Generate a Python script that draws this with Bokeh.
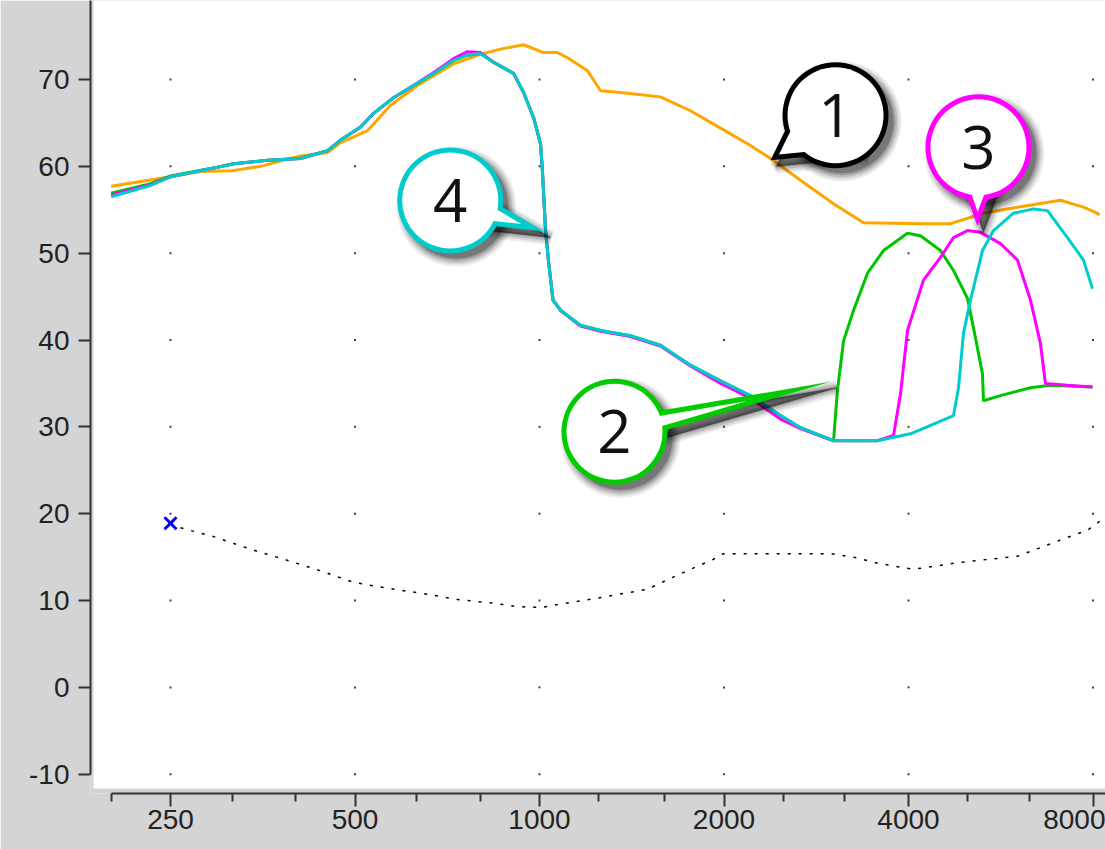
import math
from bokeh.plotting import figure
from bokeh.models import Range1d, FixedTicker, BoxAnnotation, CustomJSTickFormatter, Span
from bokeh.core.properties import value
from bokeh.embed import file_html
from bokeh.resources import INLINE

# ---------------- data ----------------
x_major = [250, 500, 1000, 2000, 4000, 8000]
x_minor = [200, 315, 400, 630, 800, 1250, 1600, 2500, 3150, 5000, 6300]
y_major = [-10, 0, 10, 20, 30, 40, 50, 60, 70]

c1_freq = [200, 250, 280, 315, 351, 407, 451, 473, 524, 571, 632, 724, 810, 864, 942,
           1015, 1070, 1111, 1198, 1258, 1356, 1575, 1763, 1974, 2209, 2382, 2666, 3018,
           3378, 4232, 4684, 5301, 6024, 7080, 7720, 8075, 8200]
c1_level = [57.7, 58.8, 59.4, 59.5, 60.0, 61.2, 61.6, 62.7, 64.1, 67.0, 69.3, 71.8, 73.0, 73.5, 74.0,
            73.1, 73.1, 72.5, 71.0, 68.7, 68.5, 68.0, 66.4, 64.4, 62.4, 60.9, 58.4, 55.7,
            53.5, 53.4, 53.4, 54.6, 55.3, 56.1, 55.3, 54.7, 54.4]

c4_freq = [200, 232, 250, 298, 317, 360, 407, 451, 473, 510, 536, 578, 623, 672, 724, 763, 801,
           841, 907, 942, 978, 1004, 1011, 1023, 1034, 1052, 1083, 1166, 1258, 1407, 1575,
           1763, 1974, 2209, 2473, 2666, 3018, 3560, 4030, 4737, 4827, 4918, 5049, 5282,
           5505, 5934, 6397, 6742, 7268, 7720, 7985]
c4_level = [56.5, 57.8, 58.8, 59.9, 60.3, 60.7, 60.9, 61.8, 63.0, 64.5, 66.1, 67.9, 69.3, 70.7, 72.2, 72.8, 73.0,
            72.0, 70.7, 68.5, 65.6, 62.6, 59.5, 52.6, 49.2, 44.6, 43.4, 41.7, 41.1, 40.5, 39.4,
            37.1, 35.3, 33.6, 31.3, 29.9, 28.4, 28.4, 29.2, 31.3, 34.5, 40.8, 44.6, 50.3,
            52.6, 54.6, 55.1, 54.9, 51.8, 49.2, 45.9]

c3_freq = [200, 232, 250, 298, 317, 360, 407, 451, 473, 510, 536, 578, 623, 672, 724, 763, 801,
           841, 907, 942, 978, 1004, 1011, 1023, 1034, 1052, 1083, 1166, 1258, 1407, 1575,
           1763, 1974, 2209, 2473, 2666, 3018, 3560, 3781, 3882, 3985, 4232, 4510, 4737,
           4993, 5242, 5652, 6024, 6325, 6567, 6691, 7268, 7985]
c3_level = [56.7, 57.9, 58.8, 59.9, 60.3, 60.7, 60.9, 61.8, 63.0, 64.5, 66.1, 67.9, 69.3, 70.8, 72.4, 73.2, 73.1,
            72.0, 70.7, 68.5, 65.6, 62.6, 59.5, 52.6, 49.2, 44.6, 43.4, 41.6, 41.0, 40.4, 39.3,
            37.0, 35.0, 33.3, 30.9, 29.8, 28.4, 28.4, 29.0, 33.8, 41.1, 46.9, 49.5, 51.8,
            52.6, 52.4, 51.1, 49.2, 44.6, 39.6, 35.0, 34.8, 34.6]

c2_freq = [200, 232, 250, 298, 317, 360, 407, 451, 473, 510, 536, 578, 623, 672, 724, 763, 801,
           841, 907, 942, 978, 1004, 1011, 1023, 1034, 1052, 1083, 1166, 1258, 1407, 1575,
           1763, 1974, 2209, 2473, 2666, 3018, 3063, 3134, 3253, 3429, 3642, 3985, 4184,
           4510, 4737, 4993, 5106, 5282, 5301, 5652, 6325, 6800, 7985]
c2_level = [56.9, 58.0, 58.9, 59.9, 60.3, 60.7, 60.9, 61.8, 63.0, 64.5, 66.1, 67.9, 69.3, 70.7, 72.2, 72.8, 73.0,
            72.0, 70.7, 68.5, 65.6, 62.6, 59.5, 52.6, 49.2, 44.6, 43.4, 41.7, 41.1, 40.5, 39.4,
            37.1, 35.3, 33.6, 31.3, 29.9, 28.4, 34.2, 39.9, 43.4, 47.7, 50.3, 52.3, 52.0,
            50.3, 48.0, 44.8, 41.4, 36.1, 33.0, 33.6, 34.5, 34.8, 34.6]

thr_freq = [250, 259, 296, 338, 385, 436, 497, 567, 647, 738, 841, 921, 1004, 1248, 1500,
            1618, 1763, 1916, 1996, 2984, 3253, 3560, 4076, 4461, 4863, 6024, 6567, 7160,
            7837, 8229]
thr_level = [18.9, 18.4, 17.3, 15.9, 14.7, 13.5, 12.1, 11.4, 10.8, 10.1, 9.7, 9.3, 9.2, 10.3, 11.3,
             12.4, 13.6, 14.7, 15.4, 15.4, 15.0, 14.3, 13.6, 14.0, 14.4, 15.1, 16.1, 17.1,
             18.1, 19.2]

mark_freq = [250]
mark_level = [18.9]

callout_text = ["1", "2", "3", "4"]
callout_tip_freq = [2382, 2984, 5183, 1018]
callout_tip_level = [60.7, 35.2, 53.1, 52.5]

# ---------------- layout / style ----------------
GRAY = "#d4d4d4"
AX = "#333333"
col1, col2, col3, col4 = "#ffa500", "#00c400", "#ff00ff", "#00cccc"
callout_color = ["#000000", "#00cc00", "#ff00ff", "#00cccc"]
bubble_offset_px = [(65, -45), (-216, 50), (1, -79), (-94, -31)]
bubble_tail_half = [44, 13, 29, 21]
R_OUT, RING = 53, 5

W, H = 1105, 849
ML, MB = 90, 56
FL, FT = ML, 0
FW, FH = W - ML, H - MB

PX_OCT, X_REF_PX, F_REF = 184.5, 170.0, 250.0
PX_UNIT, Y_REF_PX, L_REF = 8.684, 79.0, 70.0


def f_at(px):
    return F_REF * 2 ** ((px - X_REF_PX) / PX_OCT)


def l_at(py):
    return L_REF - (py - Y_REF_PX) / PX_UNIT


def px_of(f):
    return X_REF_PX + PX_OCT * math.log2(f / F_REF)


def py_of(l):
    return Y_REF_PX - (l - L_REF) * PX_UNIT


p = figure(width=W, height=H, x_axis_type="log",
           x_range=Range1d(f_at(FL), f_at(FL + FW)),
           y_range=Range1d(l_at(FT + FH), l_at(FT)),
           output_backend="svg", toolbar_location=None,
           min_border_left=ML, min_border_right=0, min_border_top=0, min_border_bottom=MB)
p.background_fill_color = GRAY
p.border_fill_color = GRAY
p.outline_line_color = None
p.xgrid.visible = False
p.ygrid.visible = False

p.add_layout(BoxAnnotation(left=f_at(93), bottom=l_at(788), fill_color="white", fill_alpha=1.0,
                           line_color=None, level="underlay"))

xa = p.xaxis[0]
xa.ticker = FixedTicker(ticks=x_major, minor_ticks=x_minor)
xa.bounds = (200, 9000)
ya = p.yaxis[0]
ya.ticker = FixedTicker(ticks=y_major, minor_ticks=[])
ya.bounds = (-10, 90)
for ax, tout, mout, so in ((xa, 13, 8, 3), (ya, 12, 0, 9)):
    ax.formatter = CustomJSTickFormatter(code="return tick.toFixed(0);")
    ax.major_tick_out = tout
    ax.major_tick_in = 0
    ax.minor_tick_out = mout
    ax.minor_tick_in = 0
    ax.axis_line_width = 2
    ax.major_tick_line_width = 2
    ax.minor_tick_line_width = 2
    ax.axis_line_color = AX
    ax.major_tick_line_color = AX
    ax.minor_tick_line_color = AX
    ax.major_label_text_font = "Liberation Sans"
    ax.major_label_text_font_size = "28px"
    ax.major_label_text_color = "#222222"
    ax.major_label_standoff = so

# outer left edge of the window frame
p.add_layout(Span(location=11 - FL, location_units="screen", dimension="height",
                  line_color="#3a3a3a", line_width=2))

# grid dots at major intersections
gx = [x for x in x_major for _ in y_major]
gy = [y for _ in x_major for y in y_major]
p.scatter(gx, gy, marker="square", size=2, fill_color="#444444", line_color=None)

# curves
p.line(c1_freq, c1_level, line_color=col1, line_width=3)
p.line(c2_freq, c2_level, line_color=col2, line_width=3)
p.line(c3_freq, c3_level, line_color=col3, line_width=3)
p.line(c4_freq, c4_level, line_color=col4, line_width=3)
p.line(thr_freq, thr_level, line_color="black", line_width=1.5, line_dash="3 8")
p.scatter(mark_freq, mark_level, marker="x", size=17, line_color="#0000ff", line_width=3)


# callout bubbles
def to_data(pts):
    return [f_at(a) for a, _ in pts], [l_at(b) for _, b in pts]


def inset_tail(b1, t, b2, w):
    def unit(v):
        n = math.hypot(v[0], v[1])
        return (v[0] / n, v[1] / n)

    res = []
    lines = []
    for b, other in ((b1, b2), (b2, b1)):
        d = unit((t[0] - b[0], t[1] - b[1]))
        m = (-d[1], d[0])
        if m[0] * (other[0] - b[0]) + m[1] * (other[1] - b[1]) < 0:
            m = (-m[0], -m[1])
        p0 = (b[0] + w * m[0], b[1] + w * m[1])
        lines.append((p0, d))
        res.append(p0)
    (p1, d1), (p2, d2) = lines
    den = d1[0] * d2[1] - d1[1] * d2[0]
    s = ((p2[0] - p1[0]) * d2[1] - (p2[1] - p1[1]) * d2[0]) / den
    tin = (p1[0] + s * d1[0], p1[1] + s * d1[1])
    return [res[0], tin, res[1]]


for i, txt in enumerate(callout_text):
    tx, ty = px_of(callout_tip_freq[i]), py_of(callout_tip_level[i])
    ox, oy = bubble_offset_px[i]
    cx, cy = tx + ox, ty + oy
    L = math.hypot(tx - cx, ty - cy)
    ux, uy = (tx - cx) / L, (ty - cy) / L
    nx, ny = -uy, ux
    h = bubble_tail_half[i]
    b1 = (cx + h * nx, cy + h * ny)
    b2 = (cx - h * nx, cy - h * ny)
    tri = [b1, (tx, ty), b2]
    col = callout_color[i]
    # shadow
    for grow, alpha in ((7, 0.07), (5, 0.09), (3, 0.12), (1, 0.16), (-1, 0.24)):
        sh = [(a + 6, b + 6) for a, b in tri]
        xs, ys = to_data(sh)
        p.patch(xs, ys, fill_color="black", fill_alpha=alpha, line_color="black",
                line_alpha=alpha, line_width=max(grow, 0) * 2 + 1)
        p.scatter([f_at(cx + 6)], [l_at(cy + 6)], marker="circle", size=2 * (R_OUT + grow),
                  fill_color="black", fill_alpha=alpha, line_color=None)
    # colored outline
    p.scatter([f_at(cx)], [l_at(cy)], marker="circle", size=2 * R_OUT, fill_color=col, line_color=None)
    xs, ys = to_data(tri)
    p.patch(xs, ys, fill_color=col, line_color=None)
    # white interior
    p.scatter([f_at(cx)], [l_at(cy)], marker="circle", size=2 * (R_OUT - RING), fill_color="white",
              line_color=None)
    xs, ys = to_data(inset_tail(b1, (tx, ty), b2, RING))
    p.patch(xs, ys, fill_color="white", line_color=None)
    p.text([f_at(cx)], [l_at(cy)], text=[txt], text_align="center", text_baseline="middle",
           text_font=value("Open Sans"), text_font_size=value("60px"), text_color="#111111")

open("out.html", "w").write(file_html(p, INLINE))
